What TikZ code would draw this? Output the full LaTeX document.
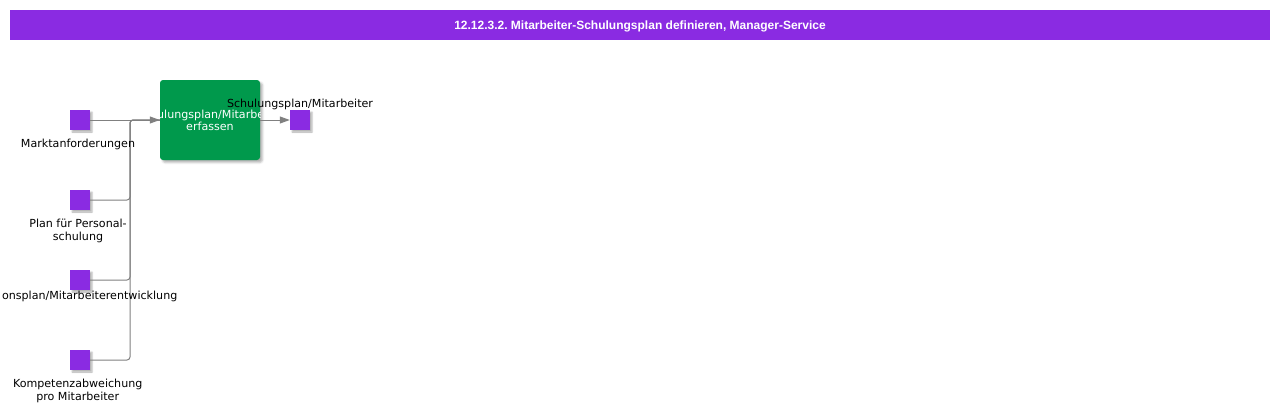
\documentclass[tikz,border=0pt]{standalone}
\usepackage{fontspec}
\setmainfont{DejaVu Sans}
\newfontfamily\titlefont{Liberation Sans}
\usetikzlibrary{arrows.meta,shadows.blur}
\definecolor{purp}{RGB}{138,43,226}
\definecolor{grn}{RGB}{0,153,76}
\definecolor{conncol}{RGB}{128,128,128}
\frenchspacing
\tikzset{
  x=1pt,y=-1pt,
  sq/.style={draw=none,fill=purp,minimum size=20pt,inner sep=0pt,
    blur shadow={shadow xshift=2pt,shadow yshift=-2pt,shadow blur radius=1.5pt,shadow opacity=30}},
  proc/.style={draw=none,fill=grn,minimum width=100pt,minimum height=80pt,inner sep=0pt,rounded corners=3pt,
    blur shadow={shadow xshift=2.5pt,shadow yshift=-2.5pt,shadow blur radius=2pt,shadow opacity=30}},
  lbl/.style={inner sep=0pt,anchor=base,font=\fontsize{11.1}{13}\selectfont,text=black},
  wlbl/.style={lbl,text=white},
  conn/.style={draw=conncol,line width=1pt},
  tip/.style={-{Triangle[length=10pt,width=7pt]}},
}
\begin{document}
\begin{tikzpicture}
\useasboundingbox (0,0) rectangle (1280,413);
% header
\node[fill=purp,minimum width=1260pt,minimum height=29.5pt,inner sep=0pt,anchor=north west] (hdr) at (10,10) {};
\node[inner sep=0pt,anchor=base,text=white,font=\titlefont\bfseries\fontsize{12}{14}\selectfont] (title) at (640,29) {12.12.3.2. Mitarbeiter-Schulungsplan definieren, Manager-Service};
% process box
\node[proc] (box) at (210,120) {};
\begin{scope}
\clip (160,80) rectangle (260,160);
\node[wlbl] (boxa) at (210,118.3) {Schulungsplan/Mitarbeiter};
\node[wlbl] (boxb) at (210,130.3) {erfassen};
\end{scope}
% input objects
\node[sq] (m1) at (80,120) {};
\node[sq] (m2) at (80,200) {};
\node[sq] (m3) at (80,280) {};
\node[sq] (m4) at (80,360) {};
\node[sq] (out) at (300,120) {};
\coordinate (j) at (130,120);
% connectors
\draw[conn,tip] (m1.east) -- (box.west);
\draw[conn,rounded corners=3pt] (m2.east) -- (m2.east -| j) -- (j) -- (box.west);
\draw[conn,rounded corners=3pt] (m3.east) -- (m3.east -| j) -- (j) -- (box.west);
\draw[conn,rounded corners=3pt] (m4.east) -- (m4.east -| j) -- (j) -- (box.west);
\draw[conn,tip] (box.east) -- (out.west);
% labels
\node[lbl] (l1) at (78,147) {Marktanforderungen};
\node[lbl] (l2a) at (78,227) {Plan für Personal-};
\node[lbl] (l2b) at (78,240) {schulung};
\node[lbl,anchor=base east] (l3) at (177.5,299.5) {onsplan/Mitarbeiterentwicklung};
\node[lbl] (l4a) at (77.7,387) {Kompetenzabweichung};
\node[lbl] (l4b) at (77.7,400) {pro Mitarbeiter};
\node[lbl] (lout) at (300,107) {Schulungsplan/Mitarbeiter};
\end{tikzpicture}
\end{document}
